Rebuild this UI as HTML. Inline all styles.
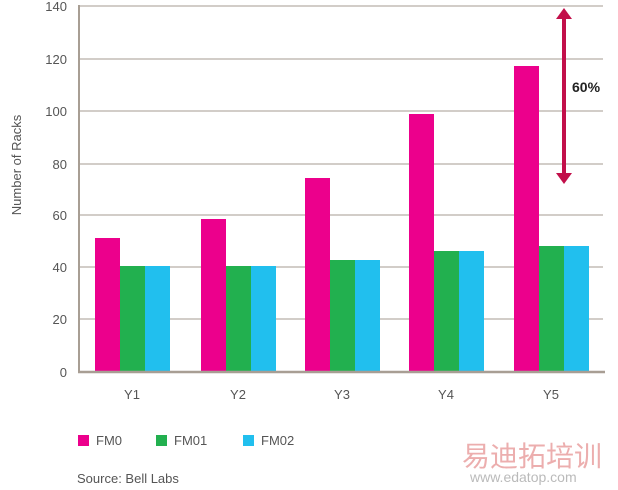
<!DOCTYPE html>
<html><head><style>body{margin:0;background:#fff}</style></head><body>
<svg width="618" height="485" xmlns="http://www.w3.org/2000/svg" font-family="Liberation Sans, sans-serif">
<g stroke="#b8afa6" stroke-width="1.3">
<line x1="80" y1="6" x2="603" y2="6"/><line x1="80" y1="59" x2="603" y2="59"/><line x1="80" y1="111" x2="603" y2="111"/><line x1="80" y1="164" x2="603" y2="164"/><line x1="80" y1="215" x2="603" y2="215"/><line x1="80" y1="267" x2="603" y2="267"/><line x1="80" y1="319" x2="603" y2="319"/>
</g>
<g fill="#ec008c">
<rect x="95" y="238" width="25" height="134"/><rect x="201" y="219" width="25" height="153"/><rect x="305" y="178" width="25" height="194"/><rect x="409" y="114" width="25" height="258"/><rect x="514" y="66" width="25" height="306"/>
</g>
<g fill="#22b04f">
<rect x="120" y="266" width="25" height="106"/><rect x="226" y="266" width="25" height="106"/><rect x="330" y="260" width="25" height="112"/><rect x="434" y="251" width="25" height="121"/><rect x="539" y="246" width="25" height="126"/>
</g>
<g fill="#21bfee">
<rect x="145" y="266" width="25" height="106"/><rect x="251" y="266" width="25" height="106"/><rect x="355" y="260" width="25" height="112"/><rect x="459" y="251" width="25" height="121"/><rect x="564" y="246" width="25" height="126"/>
</g>
<line x1="79" y1="5" x2="79" y2="373" stroke="#a89e94" stroke-width="2"/>
<line x1="78" y1="372" x2="605" y2="372" stroke="#a89e94" stroke-width="2.5"/>
<g font-size="13" fill="#555" text-anchor="end">
<text x="67" y="11">140</text><text x="67" y="64">120</text><text x="67" y="116">100</text><text x="67" y="169">80</text><text x="67" y="220">60</text><text x="67" y="272">40</text><text x="67" y="324">20</text><text x="67" y="377">0</text>
</g>
<text transform="translate(21,165) rotate(-90)" font-size="13" fill="#555" text-anchor="middle">Number of Racks</text>
<g font-size="13" fill="#555" text-anchor="middle">
<text x="132" y="399">Y1</text><text x="238" y="399">Y2</text><text x="342" y="399">Y3</text><text x="446" y="399">Y4</text><text x="551" y="399">Y5</text>
</g>
<line x1="564" y1="16" x2="564" y2="176" stroke="#c20f4a" stroke-width="4"/>
<polygon points="564,8 556,19 572,19" fill="#c20f4a"/>
<polygon points="564,184 556,173 572,173" fill="#c20f4a"/>
<text x="572" y="92" font-size="14" font-weight="bold" fill="#222">60%</text>
<rect x="78" y="435" width="11" height="11" fill="#ec008c"/><text x="96" y="445" font-size="13" fill="#555">FM0</text>
<rect x="156" y="435" width="11" height="11" fill="#22b04f"/><text x="174" y="445" font-size="13" fill="#555">FM01</text>
<rect x="243" y="435" width="11" height="11" fill="#21bfee"/><text x="261" y="445" font-size="13" fill="#555">FM02</text>
<text x="77" y="483" font-size="13" fill="#555">Source: Bell Labs</text>
<text x="462" y="466" font-size="28" fill="#e89a9a" opacity="0.8" font-family="Liberation Sans, Noto Sans CJK SC, sans-serif">易迪拓培训</text>
<text x="470" y="482" font-size="14" fill="#aaa" opacity="0.8">www.edatop.com</text>
</svg>
</body></html>
